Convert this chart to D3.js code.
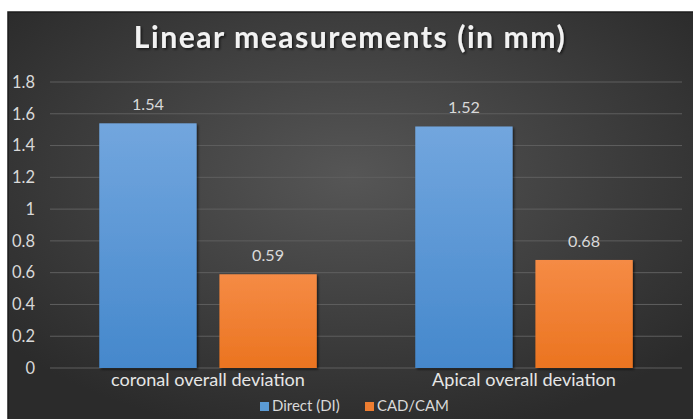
<!DOCTYPE html>
<html>
<head>
    <script src="https://d3js.org/d3.v7.min.js"></script>
    <style>
        body { margin: 0; background: #fff; }
        text { font-family: Lato, "Open Sans", sans-serif; }
    </style>
</head>
<body>

<script>
const categories = ['coronal overall deviation', 'Apical overall deviation'];
const seriesNames = ['Direct (DI)', 'CAD/CAM'];
const directValues = [1.54, 1.52];
const cadcamValues = [0.59, 0.68];
const yTicks = [0, 0.2, 0.4, 0.6, 0.8, 1, 1.2, 1.4, 1.6, 1.8];

const W = 693, H = 419;
const frame = { left: 8, top: 12 };
const margin = { top: 82, right: 11, bottom: 51, left: 50 };
const plotW = W - margin.left - margin.right;
const plotH = H - margin.top - margin.bottom;

// scale a text's font size so that it spans the wanted width
function fitFont(sel, base, target) {
    sel.attr('font-size', base);
    const w = sel.node().getComputedTextLength();
    const size = base * target / w;
    sel.attr('font-size', size);
    return size;
}

const svg = d3.select('body')
    .append('svg')
    .attr('width', W)
    .attr('height', H);

const defs = svg.append('defs');

// dark Excel-like background
const bg = defs.append('radialGradient')
    .attr('id', 'bg')
    .attr('cx', '50%').attr('cy', '40%').attr('r', '65%');
bg.append('stop').attr('offset', '0%').attr('stop-color', '#565656');
bg.append('stop').attr('offset', '100%').attr('stop-color', '#2b2b2b');

const blueGrad = defs.append('linearGradient')
    .attr('id', 'blue').attr('x1', 0).attr('y1', 0).attr('x2', 0).attr('y2', 1);
blueGrad.append('stop').attr('offset', '0%').attr('stop-color', '#72a6de');
blueGrad.append('stop').attr('offset', '100%').attr('stop-color', '#4588cc');

const orangeGrad = defs.append('linearGradient')
    .attr('id', 'orange').attr('x1', 0).attr('y1', 0).attr('x2', 0).attr('y2', 1);
orangeGrad.append('stop').attr('offset', '0%').attr('stop-color', '#f58b45');
orangeGrad.append('stop').attr('offset', '100%').attr('stop-color', '#eb7420');

const shadow = defs.append('filter').attr('id', 'shadow')
    .attr('x', '-10%').attr('y', '-10%').attr('width', '130%').attr('height', '130%');
shadow.append('feDropShadow')
    .attr('dx', 1.5).attr('dy', 1.5).attr('stdDeviation', 1.2)
    .attr('flood-color', '#000').attr('flood-opacity', 0.6);

svg.append('rect')
    .attr('x', frame.left)
    .attr('y', frame.top)
    .attr('width', W - frame.left + 2)
    .attr('height', H - frame.top + 2)
    .attr('fill', 'url(#bg)')
    .attr('stroke', '#1c1c1c')
    .attr('stroke-width', 1.5);

const title = svg.append('text')
    .attr('x', 350)
    .attr('y', 48)
    .attr('text-anchor', 'middle')
    .attr('font-weight', 'bold')
    .attr('letter-spacing', 1.5)
    .attr('fill', '#f2f2f2')
    .attr('filter', 'url(#shadow)')
    .attr('font-family', '"Open Sans", sans-serif')
    .text('Linear measurements (in mm)');
fitFont(title, 26, 439);

const g = svg.append('g')
    .attr('transform', `translate(${margin.left},${margin.top})`);

const x0 = d3.scaleBand()
    .domain(categories)
    .range([0, plotW]);

const x1 = d3.scaleBand()
    .domain(seriesNames)
    .range([0, x0.bandwidth()])
    .paddingInner(0.19)
    .paddingOuter(0.41);

const y = d3.scaleLinear()
    .domain([0, 1.8])
    .range([plotH, 0]);

// gridlines
g.append('g')
    .selectAll('line')
    .data(yTicks)
    .enter()
    .append('line')
    .attr('x1', 0)
    .attr('x2', plotW)
    .attr('y1', d => y(d))
    .attr('y2', d => y(d))
    .attr('stroke', '#5f5f5f')
    .attr('stroke-width', 1);

// y axis labels
const yAxis = d3.axisLeft(y)
    .tickValues(yTicks)
    .tickSize(0)
    .tickPadding(15)
    .tickFormat(d => d3.format('~g')(d));
const yG = g.append('g')
    .call(yAxis)
    .call(s => s.select('.domain').remove());
const yLabels = yG.selectAll('text')
    .attr('text-anchor', 'end')
    .attr('fill', '#d9d9d9')
    .attr('font-family', 'Lato, sans-serif');
const ySize = fitFont(yLabels.filter(d => d === 1.8), 14, 23);
yLabels.attr('font-size', ySize);

const rows = categories.map((c, i) => ({
    category: c,
    values: [
        { key: seriesNames[0], value: directValues[i], fill: 'url(#blue)' },
        { key: seriesNames[1], value: cadcamValues[i], fill: 'url(#orange)' }
    ]
}));

const groups = g.selectAll('g.group')
    .data(rows)
    .enter()
    .append('g')
    .attr('class', 'group')
    .attr('transform', d => `translate(${x0(d.category)},0)`);

groups.selectAll('rect')
    .data(d => d.values)
    .enter()
    .append('rect')
    .attr('x', d => x1(d.key))
    .attr('y', d => y(d.value))
    .attr('width', x1.bandwidth())
    .attr('height', d => plotH - y(d.value))
    .attr('fill', d => d.fill)
    .attr('filter', 'url(#shadow)');

const barLabels = groups.selectAll('text.bar-label')
    .data(d => d.values)
    .enter()
    .append('text')
    .attr('class', 'bar-label')
    .attr('x', d => x1(d.key) + x1.bandwidth() / 2)
    .attr('y', d => y(d.value) - 13)
    .attr('text-anchor', 'middle')
    .attr('fill', '#d9d9d9')
    .text(d => d3.format('.2f')(d.value));
const labelSize = fitFont(d3.select(barLabels.nodes()[0]), 14, 32);
barLabels.attr('font-size', labelSize);

// category labels
const xAxis = d3.axisBottom(x0).tickSize(0).tickPadding(5);
const xG = g.append('g')
    .attr('transform', `translate(0,${plotH})`)
    .call(xAxis)
    .call(s => s.select('.domain').remove());
const xLabels = xG.selectAll('text')
    .attr('fill', '#e6e6e6')
    .attr('dy', '0.71em')
    .attr('font-family', 'Lato, sans-serif');
const catSize = fitFont(d3.select(xLabels.nodes()[0]), 16, 194);
xLabels.attr('font-size', catSize);

// legend
const legend = svg.append('g')
    .attr('transform', 'translate(260,402)');
const legendItems = legend.selectAll('g')
    .data([
        { name: seriesNames[0], color: '#5b9bd5' },
        { name: seriesNames[1], color: '#ed7d31' }
    ])
    .enter()
    .append('g')
    .attr('transform', (d, i) => `translate(${i * 105},0)`);
legendItems.append('rect')
    .attr('width', 9)
    .attr('height', 9)
    .attr('fill', d => d.color);
const legendText = legendItems.append('text')
    .attr('x', 12)
    .attr('y', 9)
    .attr('fill', '#d9d9d9')
    .text(d => d.name);
const legendSize = fitFont(d3.select(legendText.nodes()[1]), 14, 72);
legendText.attr('font-size', legendSize);
</script>

</body>
</html>
